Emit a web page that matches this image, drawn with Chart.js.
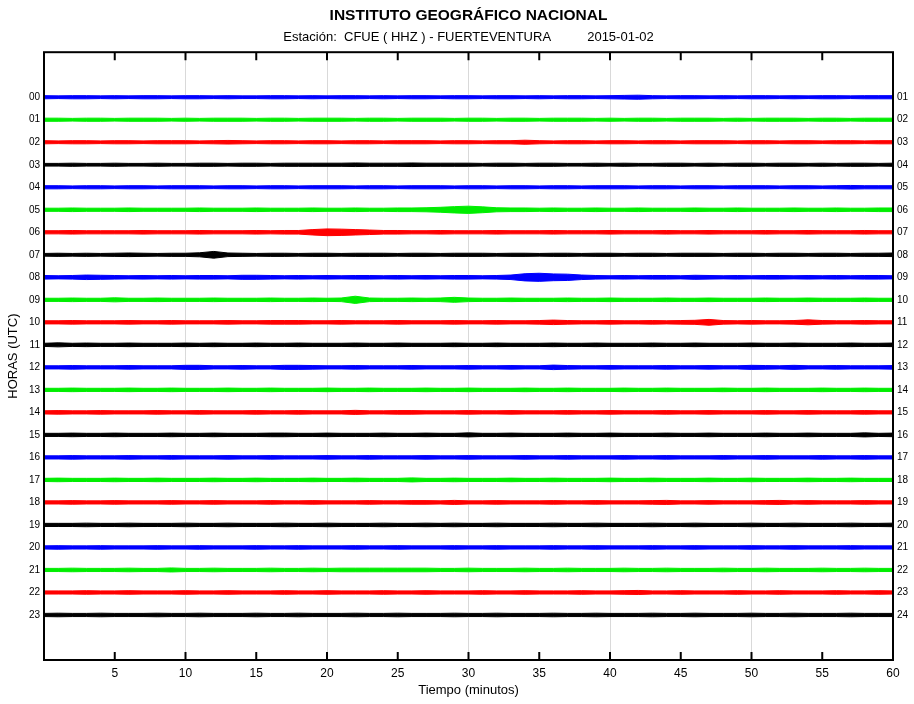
<!DOCTYPE html>
<html><head><meta charset="utf-8">
<script src="https://cdn.jsdelivr.net/npm/chart.js@4.4.1/dist/chart.umd.min.js"></script>
<style>html,body{margin:0;padding:0;background:#fff}canvas{display:block}</style>
</head><body>
<canvas id="c" width="914" height="704"></canvas>
<script>
// ---- data ----
const chartTitle = 'INSTITUTO GEOGRÁFICO NACIONAL';
const chartSubtitle = 'Estación:  CFUE ( HHZ ) - FUERTEVENTURA          2015-01-02';
const xTitle = 'Tiempo (minutos)';
const yTitle = 'HORAS (UTC)';
const xTicks = [5, 10, 15, 20, 25, 30, 35, 40, 45, 50, 55, 60];
const hours = [0,1,2,3,4,5,6,7,8,9,10,11,12,13,14,15,16,17,18,19,20,21,22,23];
const leftLabels = ['00','01','02','03','04','05','06','07','08','09','10','11','12','13','14','15','16','17','18','19','20','21','22','23'];
const rightLabels = ['01','02','03','04','05','06','07','08','09','10','11','12','13','14','15','16','17','18','19','20','21','22','23','24'];
const minutes = [0,1,2,3,4,5,6,7,8,9,10,11,12,13,14,15,16,17,18,19,20,21,22,23,24,25,26,27,28,29,30,31,32,33,34,35,36,37,38,39,40,41,42,43,44,45,46,47,48,49,50,51,52,53,54,55,56,57,58,59,60];
// half-width of each trace (envelope), hundredths of one hour row, one value per minute
const amp00 = [7,6,7,7,6,7,6,7,7,6,7,7,6,7,6,6,7,7,6,7,6,7,7,6,7,6,7,7,6,7,7,6,7,7,6,7,6,7,7,6,7,8,9,7,6,7,7,6,7,6,7,7,6,7,6,7,7,6,7,7,7];
const amp01 = [7,7,6,7,7,6,7,7,7,6,7,6,7,7,7,6,7,7,6,7,7,7,6,7,7,6,7,7,7,6,7,7,6,7,7,6,7,7,7,6,7,6,7,7,6,7,7,7,6,7,6,7,7,7,6,7,7,6,7,7,7];
const amp02 = [7,6,7,7,6,7,7,6,7,7,7,6,7,8,7,6,7,7,6,7,7,6,7,7,6,7,7,7,6,7,7,6,7,7,9,7,6,7,7,6,7,7,6,7,7,6,7,7,7,6,7,7,6,7,7,6,7,7,6,7,7];
const amp03 = [6,6,7,6,6,7,6,6,7,6,6,7,7,6,7,7,6,7,7,7,7,7,8,7,7,7,8,7,7,7,7,6,7,7,6,7,7,6,6,7,6,7,6,6,7,7,6,7,6,7,7,6,7,7,6,7,6,7,7,6,7];
const amp04 = [7,7,6,7,7,6,7,7,6,7,7,7,6,7,7,6,7,7,6,7,7,7,6,7,7,6,7,7,7,6,7,7,6,7,7,6,7,7,6,7,7,7,6,7,7,6,7,7,6,7,7,7,6,7,7,6,7,8,7,7,7];
const amp05 = [7,7,8,7,7,7,8,7,7,7,7,8,7,7,7,8,7,7,7,8,7,7,8,7,7,8,8,9,11,14,16,13,9,8,8,7,8,7,7,8,7,7,8,7,7,7,8,7,7,8,7,7,7,8,7,7,8,7,7,8,8];
const amp06 = [7,7,8,7,7,7,7,8,7,7,7,8,7,7,7,8,7,8,8,12,15,14,12,10,8,8,7,7,8,7,7,7,8,7,7,7,8,7,7,7,8,7,7,7,8,7,7,8,7,7,7,8,7,7,8,7,7,7,8,7,7];
const amp07 = [6,7,6,7,6,7,8,7,6,7,7,9,15,8,7,6,7,7,6,7,7,6,7,7,7,6,7,7,6,7,7,7,6,7,7,6,7,7,6,7,7,6,7,7,6,7,7,7,6,7,7,6,7,7,6,7,7,6,7,7,8];
const amp08 = [8,7,8,10,9,8,7,8,7,8,7,8,8,7,9,9,8,7,8,7,8,7,8,8,7,8,7,8,7,8,8,7,8,10,16,18,15,14,10,8,7,8,7,8,8,7,9,8,7,8,7,8,8,7,8,7,8,7,8,8,7];
const amp09 = [7,7,8,7,7,9,7,7,8,7,7,7,8,7,7,7,8,7,7,8,7,8,16,8,7,7,8,7,8,11,8,7,7,8,7,7,7,8,7,7,8,7,7,7,8,7,7,8,7,7,7,8,7,7,8,7,7,7,8,7,7];
const amp10 = [7,7,8,7,7,7,8,7,7,8,7,7,7,8,7,7,8,8,8,7,7,8,7,7,7,8,7,7,7,8,7,7,8,7,7,8,10,8,7,7,8,7,7,8,7,8,9,13,8,7,8,7,7,8,11,8,7,7,8,7,7];
const amp11 = [7,9,7,8,7,7,8,7,7,7,8,7,8,7,7,8,7,7,8,7,7,7,8,7,7,8,7,7,7,8,7,7,8,7,7,7,8,7,7,8,7,7,7,8,7,7,8,7,7,7,8,7,7,8,7,7,7,8,7,7,8];
const amp12 = [7,7,8,7,7,7,8,7,7,7,9,9,7,7,8,7,7,9,9,8,7,7,8,7,7,7,8,7,7,7,8,7,7,8,7,7,10,8,7,7,8,7,7,7,8,7,7,8,7,7,9,8,7,9,7,7,8,7,7,7,8];
const amp13 = [7,7,8,7,7,7,8,7,7,8,7,7,7,8,7,7,8,7,7,7,8,7,7,8,7,7,7,8,7,7,8,7,7,7,8,7,7,8,7,7,7,8,7,7,8,7,7,7,8,7,7,8,7,7,7,8,7,7,8,7,7];
const amp14 = [7,8,7,7,8,7,7,7,8,7,7,8,7,7,7,8,7,7,8,7,7,7,9,7,7,8,8,7,7,7,8,7,7,8,7,7,7,8,7,7,8,7,7,7,8,7,7,8,7,7,7,8,7,7,8,7,7,7,8,7,7];
const amp15 = [7,7,8,7,7,8,7,7,7,8,7,7,8,7,7,7,8,8,7,7,8,7,7,7,8,7,7,8,7,7,9,7,7,8,7,7,7,8,7,7,8,7,7,7,8,7,7,8,7,7,7,8,7,7,8,7,7,7,9,7,8];
const amp16 = [7,7,8,7,7,7,8,7,7,8,7,7,7,8,7,7,8,7,7,7,8,7,7,8,7,7,7,8,7,7,8,7,7,7,8,7,7,8,7,7,7,8,7,7,8,7,7,7,8,7,7,8,7,7,7,8,7,7,8,7,7];
const amp17 = [7,8,7,7,7,8,7,7,8,7,7,7,8,7,7,8,7,7,7,8,7,7,8,7,7,7,9,7,7,8,7,7,7,8,7,7,8,7,7,7,8,7,7,8,7,7,7,8,7,7,8,7,7,7,8,7,7,8,7,7,7];
const amp18 = [7,7,8,7,7,8,7,7,7,8,7,7,8,7,7,7,8,7,7,8,7,7,7,8,7,7,8,8,7,9,7,7,8,7,7,7,8,7,7,8,7,7,7,8,9,7,7,8,7,7,7,8,9,7,8,7,7,7,8,7,7];
const amp19 = [7,7,7,8,7,7,8,7,7,7,8,7,7,8,7,7,7,8,7,7,8,7,7,7,8,7,7,8,7,8,7,7,8,7,7,7,8,7,7,8,7,7,7,8,7,7,8,7,7,7,8,7,7,8,7,7,7,8,7,7,8];
const amp20 = [7,8,7,7,8,7,7,7,8,7,7,8,7,7,7,8,7,7,8,7,7,7,8,7,7,8,7,7,7,8,7,7,8,7,7,7,8,7,7,8,7,7,7,8,7,7,8,7,7,7,8,7,7,8,7,7,7,8,7,7,7];
const amp21 = [7,7,8,7,7,7,8,7,7,9,7,7,8,7,7,7,8,7,7,8,7,8,8,8,8,8,8,8,7,7,8,7,7,7,8,7,7,8,7,7,7,8,7,7,8,7,7,7,8,7,7,8,7,7,7,8,7,7,8,7,7];
const amp22 = [7,7,7,8,7,7,8,7,7,7,8,7,7,8,7,7,7,8,7,7,8,7,7,7,8,7,7,8,7,7,7,8,7,7,8,7,7,7,8,7,7,8,9,7,7,8,7,7,7,8,7,7,8,7,7,7,8,7,7,8,7];
const amp23 = [7,8,7,7,8,7,7,7,8,7,7,8,7,7,7,8,7,7,8,7,7,7,8,7,7,8,7,7,7,8,7,7,8,7,7,7,8,7,7,8,7,7,7,8,7,7,8,7,7,7,8,7,7,8,7,7,7,8,7,7,7];
const traceAmps = [amp00,amp01,amp02,amp03,amp04,amp05,amp06,amp07,amp08,amp09,amp10,amp11,amp12,amp13,amp14,amp15,amp16,amp17,amp18,amp19,amp20,amp21,amp22,amp23];
const traceColors = ['#0000ff','#00ee00','#ff0000','#000000'];

// ---- build datasets ----
const AMP_UNIT = 0.01;
const datasets = [];
hours.forEach((h, k) => {
  const col = traceColors[k % 4];
  const a = traceAmps[k];
  datasets.push({
    data: minutes.map((m, i) => ({x: m, y: -h + a[i] * AMP_UNIT})),
    borderColor: col, backgroundColor: col, borderWidth: 1,
    pointRadius: 0, tension: 0, fill: '+1'
  });
  datasets.push({
    data: minutes.map((m, i) => ({x: m, y: -h - a[i] * AMP_UNIT})),
    borderColor: col, backgroundColor: col, borderWidth: 1,
    pointRadius: 0, tension: 0, fill: false
  });
});

const FONT = 'Liberation Sans, Arial, sans-serif';

const framePlugin = {
  id: 'frame',
  afterDraw(chart) {
    const {ctx, chartArea: ca, scales} = chart;
    ctx.save();
    ctx.strokeStyle = '#000';
    ctx.lineWidth = 2;
    xTicks.forEach(v => {
      const px = scales.x.getPixelForValue(v);
      ctx.beginPath();
      ctx.moveTo(px, ca.bottom); ctx.lineTo(px, ca.bottom - 8);
      ctx.moveTo(px, ca.top); ctx.lineTo(px, ca.top + 8);
      ctx.stroke();
    });
    ctx.strokeRect(ca.left, ca.top, ca.right - ca.left, ca.bottom - ca.top);
    ctx.restore();
  }
};

new Chart(document.getElementById('c'), {
  type: 'line',
  data: {datasets},
  options: {
    responsive: false, animation: false, devicePixelRatio: 1,
    layout: {padding: 0},
    plugins: {
      legend: {display: false},
      tooltip: {enabled: false},
      title: {display: true, text: chartTitle, color: '#000', fullSize: false,
        font: {family: FONT, size: 15.5, weight: 'bold'}, padding: {top: 6, bottom: 3}},
      subtitle: {display: true, text: chartSubtitle, color: '#000', fullSize: false,
        font: {family: FONT, size: 13}, padding: {top: 2, bottom: 7}}
    },
    scales: {
      x: {
        type: 'linear', min: 0, max: 60,
        afterBuildTicks: s => { s.ticks = xTicks.map(v => ({value: v})); },
        afterFit: s => { s.height = 44; },
        grid: {drawTicks: false, lineWidth: 1,
          color: c => (c.tick && c.tick.value % 10 === 0 && c.tick.value < 60) ? '#d9d9d9' : 'rgba(0,0,0,0)'},
        border: {display: false},
        ticks: {color: '#000', padding: 6, maxRotation: 0, autoSkip: false, font: {family: FONT, size: 12}},
        title: {display: true, text: xTitle, color: '#000', font: {family: FONT, size: 13}, padding: {top: 0, bottom: 6}}
      },
      y: {
        position: 'left', min: -25, max: 2,
        afterBuildTicks: s => { s.ticks = hours.map(h => ({value: -h})); },
        afterFit: s => { s.width = 44; },
        grid: {display: false, drawTicks: false},
        border: {display: false},
        ticks: {color: '#000', padding: 4, autoSkip: false, font: {family: FONT, size: 10},
          callback: (v, i) => leftLabels[i]},
        title: {display: true, text: yTitle, color: '#000', font: {family: FONT, size: 13}, padding: {top: 6, bottom: 0}}
      },
      y2: {
        position: 'right', min: -25, max: 2,
        afterBuildTicks: s => { s.ticks = hours.map(h => ({value: -h})); },
        afterFit: s => { s.width = 21; },
        grid: {display: false, drawTicks: false},
        border: {display: false},
        ticks: {color: '#000', padding: 4, autoSkip: false, font: {family: FONT, size: 10},
          callback: (v, i) => rightLabels[i]}
      }
    }
  },
  plugins: [framePlugin]
});
</script>
</body></html>
